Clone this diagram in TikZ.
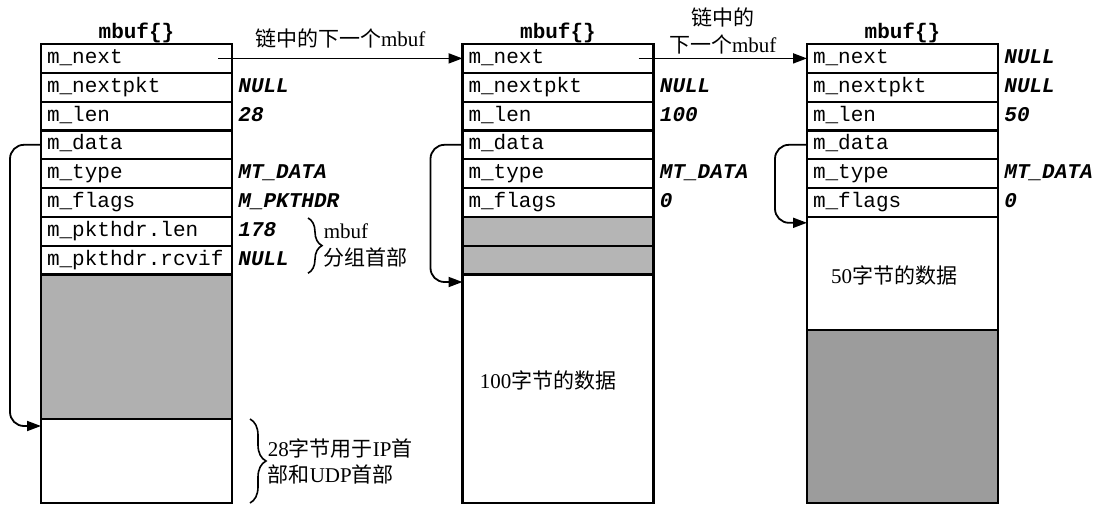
\documentclass[tikz,border=0pt]{standalone}
\usepackage{fontspec}
\setmainfont{Liberation Serif}
\setmonofont{Liberation Mono}
\newfontfamily\zhfont{Noto Sans CJK SC}
\usetikzlibrary{arrows.meta,positioning,decorations.pathreplacing}

\begin{document}
\begin{tikzpicture}[
    x=0.5pt, y=-0.5pt,
    field/.style={draw, line width=1.1pt, outer sep=0pt, minimum width=95.5pt,
      minimum height=14.4pt, inner xsep=3pt, inner ysep=0pt, text width=89.5pt,
      text height=7.5pt, text depth=2.5pt, align=left,
      font=\ttfamily\fontsize{10.5}{12}\selectfont},
    area/.style={draw, line width=1.1pt, outer sep=0pt, minimum width=95.5pt, inner sep=0pt},
    val/.style={inner sep=0pt, text height=7.5pt, text depth=2.5pt,
      font=\ttfamily\bfseries\itshape\fontsize{10.5}{12}\selectfont},
    boxtitle/.style={inner sep=0pt, font=\ttfamily\bfseries\fontsize{10.5}{12}\selectfont},
    notetext/.style={inner sep=0pt, align=left, font=\fontsize{10.5}{13.5}\selectfont},
    ptr/.style={line width=0.9pt, -{Triangle[length=7pt, width=5pt]}},
    grp/.style={line width=0.8pt, decorate, decoration={brace, amplitude=#1}},
    grp/.default=7pt
  ]
  \useasboundingbox (0,0) rectangle (1099,505);

  % first mbuf (packet header)
  \foreach \f [count=\i] in {m\_next, m\_nextpkt, m\_len, m\_data, m\_type, m\_flags, m\_pkthdr.len, m\_pkthdr.rcvif}
    \node[field, anchor=north west] (a\i) at (41, {44+28.8*(\i-1)}) {\f};
  \node[area, fill=gray!62, minimum height=72.3pt, below=0pt of a8] (a9) {};
  \node[area, minimum height=42pt, below=0pt of a9] (a10) {};
  \node[boxtitle, above=0.5pt of a1] (ta) {mbuf\{\}};
  \foreach \n/\v in {a2/NULL, a3/28, a5/MT\_DATA, a6/M\_PKTHDR, a7/178, a8/NULL}
    \node[val, right=3pt of \n] (v\n) {\v};

  % second mbuf
  \foreach \f [count=\i] in {m\_next, m\_nextpkt, m\_len, m\_data, m\_type, m\_flags}
    \node[field, anchor=north west] (b\i) at (462.5, {44+28.8*(\i-1)}) {\f};
  \node[area, fill=gray!58, minimum height=14.4pt, below=0pt of b6] (b7) {};
  \node[area, fill=gray!58, minimum height=14.4pt, below=0pt of b7] (b8) {};
  \node[area, minimum height=114.3pt, below=0pt of b8] (b9) {};
  \node[boxtitle, above=0.5pt of b1] (tb) {mbuf\{\}};
  \foreach \n/\v in {b2/NULL, b3/100, b5/MT\_DATA, b6/0}
    \node[val, right=3pt of \n] (v\n) {\v};
  \node[notetext] (db) at (548,380) {100{\zhfont 字节的数据}};

  % third mbuf
  \foreach \f [count=\i] in {m\_next, m\_nextpkt, m\_len, m\_data, m\_type, m\_flags}
    \node[field, anchor=north west] (c\i) at (807, {44+28.8*(\i-1)}) {\f};
  \node[area, minimum height=56.6pt, below=0pt of c6] (c7) {};
  \node[area, fill=gray!78, minimum height=86.5pt, below=0pt of c7] (c8) {};
  \node[boxtitle, above=0.5pt of c1] (tc) {mbuf\{\}};
  \foreach \n/\v in {c1/NULL, c2/NULL, c3/50, c5/MT\_DATA, c6/0}
    \node[val, right=3pt of \n] (v\n) {\v};
  \node[notetext] (dc) at (894,275) {50{\zhfont 字节的数据}};

  % chain pointers
  \draw[ptr] ([xshift=-7pt]a1.east) -- (b1.west)
    node[notetext, midway, above=4.5pt] (na) {{\zhfont 链中的下一个}mbuf};
  \draw[ptr] ([xshift=-7.5pt]b1.east) -- (c1.west)
    node[notetext, align=center, midway, above=1.5pt] (nb) {{\zhfont 链中的}\\{\zhfont 下一个}mbuf};

  % m_data pointers
  \draw[ptr, rounded corners=7pt] (a4.west) -- ++(-15.5pt,0) |- ([yshift=-3.5pt]a10.north west);
  \draw[ptr, rounded corners=7pt] (b4.west) -- ++(-16pt,0) |- ([yshift=-3.8pt]b9.north west);
  \draw[ptr, rounded corners=7pt] (c4.west) -- ++(-16pt,0) |- ([yshift=-3pt]c7.north west);

  % braces
  \draw[grp] ([xshift=38pt, yshift=-0.6pt]a7.north east) -- ([xshift=38pt, yshift=0.6pt]a8.south east)
    node[notetext, midway, right=7.5pt] (ha) {mbuf\\{\zhfont 分组首部}};
  \draw[grp=8pt] ([xshift=9pt]a10.north east) -- ([xshift=9pt]a10.south east)
    node[notetext, midway, right=8.5pt, font=\fontsize{10.5}{13}\selectfont] (hb)
    {28{\zhfont 字节用于}IP{\zhfont 首}\\{\zhfont 部和}UDP{\zhfont 首部}};
\end{tikzpicture}
\end{document}
